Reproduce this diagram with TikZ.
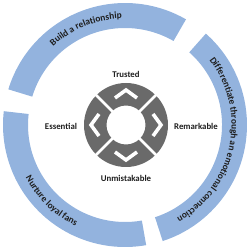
\documentclass[tikz,border=0pt]{standalone}
\usepackage{fontspec}
\setmainfont{Carlito}
\usetikzlibrary{decorations.text,calc}
\definecolor{ringblue}{HTML}{93B3DE}
\definecolor{donutgray}{HTML}{6A6A6A}
\definecolor{txtcol}{HTML}{1E1E1E}
\begin{document}
\begin{tikzpicture}[x=1pt,y=1pt,
  ringseg/.style={fill=ringblue},
  sep/.style={draw=white,line width=2.6},
  chev/.style={draw=white,line width=3.6,line join=miter,line cap=butt},
  lab/.style={font=\bfseries\fontsize{8.8}{10}\selectfont,text=txtcol,inner sep=0pt},
  curvetext/.style={decorate,decoration={text along path,text align=center,text color=txtcol}}]
\useasboundingbox (0,0) rectangle (252,252);
\coordinate (C) at (125,127);
\coordinate (D) at (126,127);
% ring segments
\fill[ringseg] ($(C)+(60:97)$) arc[start angle=60,end angle=163,radius=97]
  -- ($(C)+(163:122)$) arc[start angle=163,end angle=60,radius=122] -- cycle;
\fill[ringseg] ($(C)+(173.5:97)$) arc[start angle=173.5,end angle=280,radius=97]
  -- ($(C)+(280:122)$) arc[start angle=280,end angle=173.5,radius=122] -- cycle;
\fill[ringseg] ($(C)+(-72:97)$) arc[start angle=-72,end angle=48.5,radius=97]
  -- ($(C)+(48.5:122)$) arc[start angle=48.5,end angle=-72,radius=122] -- cycle;
% curved texts
\path[curvetext,decoration={text={|\bfseries\fontsize{9.4}{11}\selectfont|Build a relationship}}]
  ($(C)+(162:106.5)$) arc[start angle=162,end angle=62,radius=106.5];
\path[curvetext,decoration={text={|\bfseries\fontsize{9.4}{11}\selectfont|Differentiate through an emotional connection}}]
  ($(C)+(47:106.5)$) arc[start angle=47,end angle=-70.4,radius=106.5];
\path[curvetext,decoration={text={|\bfseries\fontsize{9.4}{11}\selectfont|Nurture loyal fans}}]
  ($(C)+(176:112.5)$) arc[start angle=176,end angle=276,radius=112.5];
% donut
\fill[donutgray,even odd rule] (D) circle[radius=42] (D) circle[radius=19.5];
\foreach \a in {45,135,225,315}{
  \draw[sep] ($(D)+(\a:18)$) -- ($(D)+(\a:43.5)$);
}
\foreach \a in {90,0,-90,180}{
  \begin{scope}[shift={(D)},rotate=\a]
    \draw[chev] (27,11) -- (35,0) -- (27,-11);
  \end{scope}
}
% labels
\node[lab] (trusted) at (126,178) {Trusted};
\node[lab] (unmist) at (126,74) {Unmistakable};
\node[lab] (essential) at (61,126) {Essential};
\node[lab] (remark) at (196,126) {Remarkable};
\end{tikzpicture}
\end{document}
